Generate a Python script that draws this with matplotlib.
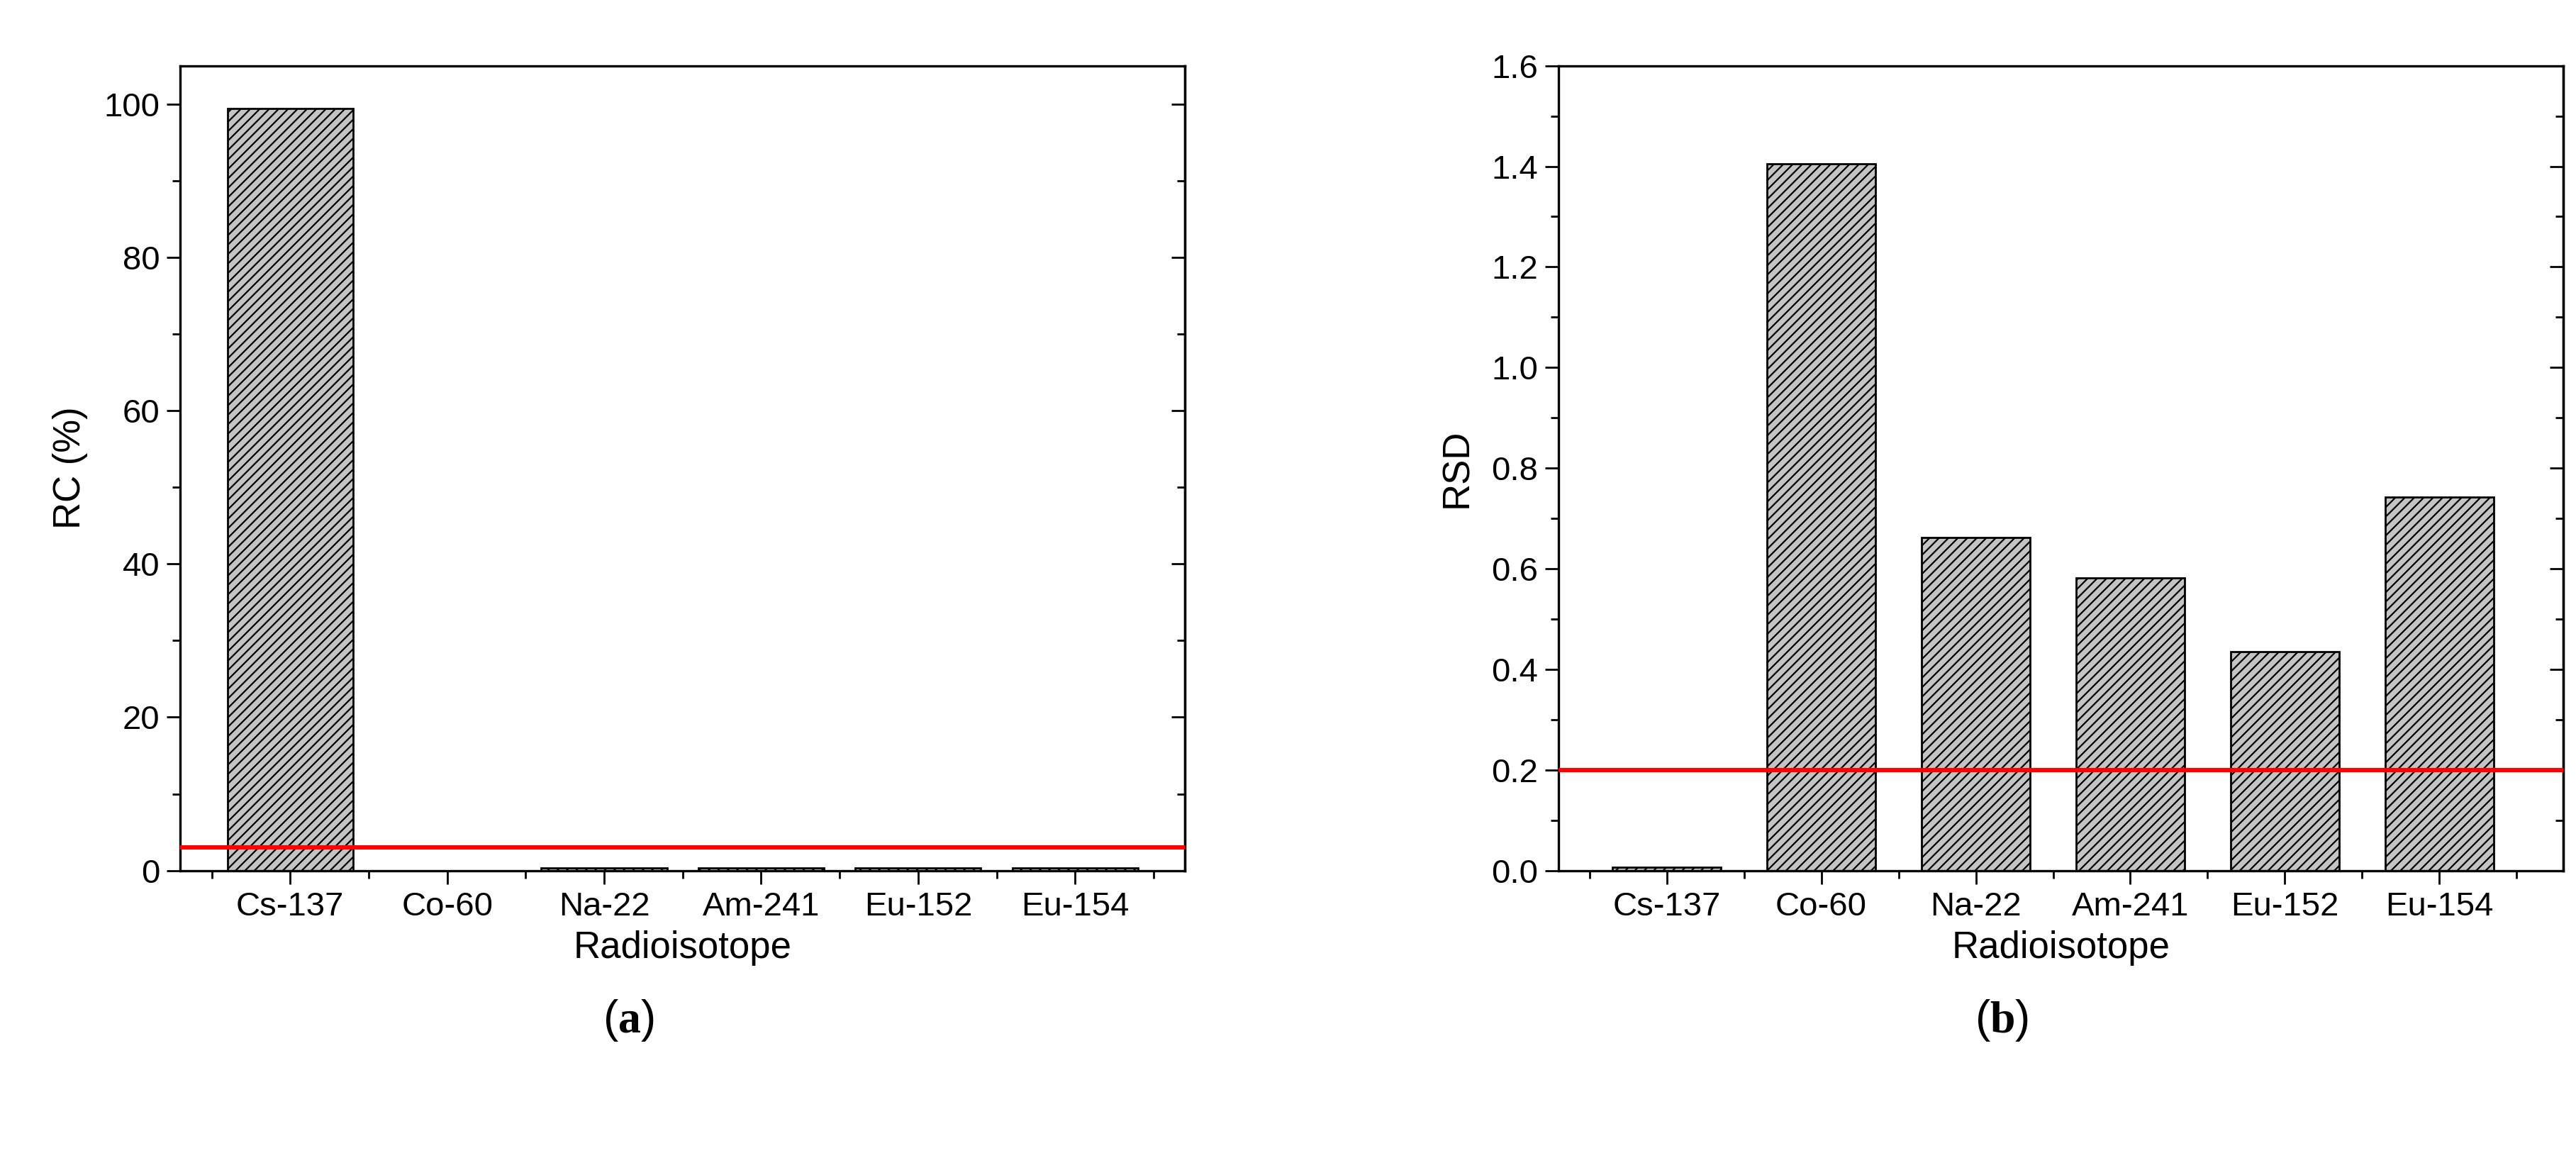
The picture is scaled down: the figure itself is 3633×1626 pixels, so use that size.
import matplotlib
matplotlib.use("Agg")
import matplotlib.pyplot as plt
from matplotlib.ticker import MultipleLocator, FixedLocator, FormatStrFormatter, NullFormatter

plt.rcParams['font.family'] = ['Liberation Sans', 'DejaVu Sans']
plt.rcParams['hatch.linewidth'] = 0.8
plt.rcParams['mathtext.fontset'] = 'custom'
plt.rcParams['mathtext.rm'] = 'Liberation Serif'
plt.rcParams['mathtext.bf'] = 'Liberation Serif:bold'

isotopes = ["Cs-137", "Co-60", "Na-22", "Am-241", "Eu-152", "Eu-154"]
rc_values = [99.4, 0.0, 0.3, 0.3, 0.3, 0.3]
rsd_values = [0.006, 1.405, 0.662, 0.582, 0.435, 0.742]
rc_limit = 3.0
rsd_limit = 0.2

fig = plt.figure(figsize=(18.165, 8.13), dpi=200)
ax1 = fig.add_axes([0.070, 0.245, 0.390, 0.698])
ax2 = fig.add_axes([0.605, 0.245, 0.390, 0.698])

def style(ax, vals, limit, ylim, major, minor, ylabel, xlim, width):
    x = list(range(len(isotopes)))
    ax.bar(x, vals, width=width, color='#c4c4c4', edgecolor='black', hatch='/////', linewidth=1.0)
    ax.axhline(limit, color='#ff0000', lw=2.2, zorder=5)
    ax.set_xlim(*xlim)
    ax.set_ylim(*ylim)
    ax.set_xticks(x)
    ax.set_xticklabels(isotopes)
    ax.xaxis.set_minor_locator(FixedLocator([i + 0.5 for i in range(-1, len(isotopes) + 1)]))
    ax.yaxis.set_major_locator(MultipleLocator(major))
    ax.yaxis.set_minor_locator(MultipleLocator(minor))
    ax.tick_params(axis='both', which='major', labelsize=17, length=7, width=1, colors='black', direction='out')
    ax.tick_params(axis='both', which='minor', length=4, width=1, direction='out')
    ax.tick_params(axis='x', which='both', top=False)
    ax.tick_params(axis='y', which='both', right=False)
    sec = ax.secondary_yaxis('right')
    sec.yaxis.set_major_locator(MultipleLocator(major))
    sec.yaxis.set_minor_locator(MultipleLocator(minor))
    sec.yaxis.set_major_formatter(NullFormatter())
    sec.tick_params(which='major', direction='in', length=7, width=1)
    sec.tick_params(which='minor', direction='in', length=4, width=1)
    sec.spines['right'].set_linewidth(1.2)
    for s in ax.spines.values():
        s.set_linewidth(1.2)
    ax.set_xlabel("Radioisotope", fontsize=19, labelpad=4)
    ax.set_ylabel(ylabel, fontsize=19, labelpad=8)

style(ax1, rc_values, rc_limit, (0, 105), 20, 10, "RC (%)", (-0.7, 5.7), 0.8)
style(ax2, rsd_values, rsd_limit, (0, 1.6), 0.2, 0.1, "RSD", (-0.7, 5.8), 0.7)
ax2.yaxis.set_major_formatter(FormatStrFormatter('%.1f'))

fig.text(0.244, 0.115, r"($\mathbf{a}$)", ha='center', va='center', fontsize=23)
fig.text(0.777, 0.115, r"($\mathbf{b}$)", ha='center', va='center', fontsize=23)

fig.savefig("out.png", dpi=200)
